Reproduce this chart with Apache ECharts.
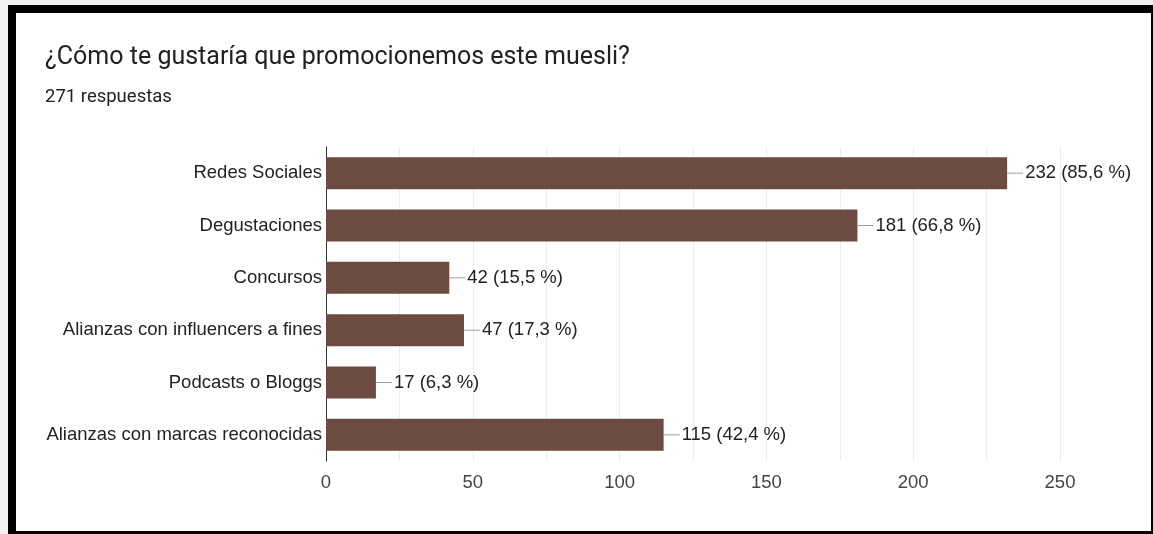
<!DOCTYPE html>
<html>
<head>
<meta charset="utf-8">
<script src="https://cdn.jsdelivr.net/npm/echarts@6/dist/echarts.min.js"></script>
<style>
  html, body { margin: 0; padding: 0; background: #f2f2f2; }
  #frame {
    position: absolute; left: 8px; top: 5px; width: 1135px; height: 518px;
    border-style: solid; border-color: #000;
    border-width: 8px 3px 3px 8px; background: #fff;
  }
  #chart { position: absolute; left: 0; top: 0; width: 1153px; height: 534px; }
</style>
</head>
<body>
<div id="frame"></div>
<div id="chart"></div>
<script>
const title = '¿Cómo te gustaría que promocionemos este muesli?';
const subtitle = '271 respuestas';
const categories = [
  'Redes Sociales',
  'Degustaciones',
  'Concursos',
  'Alianzas con influencers a fines',
  'Podcasts o Bloggs',
  'Alianzas con marcas reconocidas'
];
const counts = [232, 181, 42, 47, 17, 115];
const percents = ['85,6', '66,8', '15,5', '17,3', '6,3', '42,4'];
const xTicks = [0, 50, 100, 150, 200, 250];

const chart = echarts.init(document.getElementById('chart'));
chart.setOption({
  backgroundColor: 'transparent',
  animation: false,
  title: [
    { text: title, left: 40, top: 40,
      textStyle: { fontFamily: 'Roboto', fontSize: 25, fontWeight: 'normal', color: '#202124' } },
    { text: subtitle, left: 40, top: 83,
      textStyle: { fontFamily: 'Roboto', fontSize: 18.5, fontWeight: 'normal', color: '#202124' } }
  ],
  grid: { left: 326, right: 93, top: 147, bottom: 73 },
  xAxis: {
    type: 'value', min: 0, max: 250, interval: 25,
    axisLine: { show: false }, axisTick: { show: false },
    axisLabel: {
      fontFamily: 'Liberation Sans', fontSize: 18.5, color: '#444', margin: 12,
      formatter: v => (xTicks.includes(v) ? String(v) : '')
    },
    splitLine: { show: true, lineStyle: { color: '#ececec', width: 1 } }
  },
  yAxis: {
    type: 'category', inverse: true, data: categories,
    axisLine: { show: true, lineStyle: { color: '#333', width: 1 } },
    axisTick: { show: false },
    axisLabel: { fontFamily: 'Liberation Sans', fontSize: 18.5, color: '#222', margin: 4 },
    splitLine: { show: false }
  },
  series: [{
    type: 'bar',
    data: counts,
    barWidth: 32,
    itemStyle: { color: '#6d4b42' },
    label: {
      show: true, position: 'right', distance: 0,
      formatter: p => '{ln|}{t|' + p.value + ' (' + percents[p.dataIndex] + ' %)}',
      rich: {
        ln: { width: 16, height: 1, backgroundColor: '#9e9e9e', verticalAlign: 'middle' },
        t: { fontFamily: 'Liberation Sans', fontSize: 18.5, color: '#222', padding: [0, 0, 0, 2] }
      }
    }
  }]
});
</script>
</body>
</html>
